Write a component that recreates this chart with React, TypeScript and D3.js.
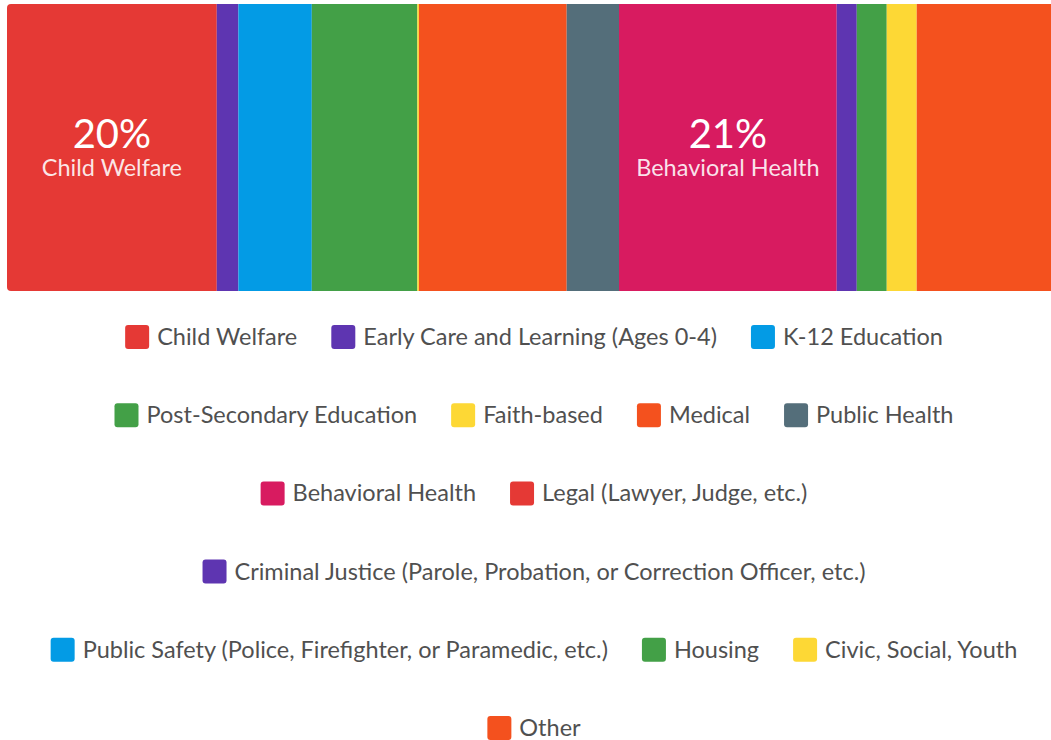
import React, { useEffect, useRef } from "react";
import * as d3 from "d3";

const categories = [
  "Child Welfare",
  "Early Care and Learning (Ages 0-4)",
  "K-12 Education",
  "Post-Secondary Education",
  "Faith-based",
  "Medical",
  "Public Health",
  "Behavioral Health",
  "Legal (Lawyer, Judge, etc.)",
  "Criminal Justice (Parole, Probation, or Correction Officer, etc.)",
  "Public Safety (Police, Firefighter, or Paramedic, etc.)",
  "Housing",
  "Civic, Social, Youth",
  "Other",
];
const values = [20.09, 2.07, 7.03, 10.11, 0.15, 14.15, 5.01, 20.85, 0, 1.92, 0, 2.87, 2.87, 12.86];
const colors = [
  "#E53935", "#5E35B1", "#039BE5", "#43A047", "#FDD835", "#F4511E", "#546E7A",
  "#D81B60", "#E53935", "#5E35B1", "#039BE5", "#43A047", "#FDD835", "#F4511E",
];

const W = 1051;
const H = 740;
const FONT = "Lato, 'Open Sans', sans-serif";

export default function App() {
  const ref = useRef<SVGSVGElement | null>(null);
  useEffect(() => {
    const svg = d3.select(ref.current);
    svg.selectAll("*").remove();
    const total = d3.sum(values);
    const x = d3.scaleLinear().domain([0, total]).range([7, 1051]);
    const y0 = 4, y1 = 291;
    const cum = d3.cumsum(values);
    const segs = values.map((v, i) => ({ v, i, start: cum[i] - v, end: cum[i] }));

    const defs = svg.append("defs");
    defs.append("clipPath").attr("id", "barclip")
      .append("rect").attr("x", 7).attr("y", y0).attr("width", 1060).attr("height", y1 - y0).attr("rx", 4);

    const g = svg.append("g").attr("clip-path", "url(#barclip)");
    g.selectAll("rect").data(segs.filter(s => s.v > 0)).join("rect")
      .attr("x", s => x(s.start))
      .attr("y", y0)
      .attr("width", s => x(s.end) - x(s.start))
      .attr("height", y1 - y0)
      .attr("fill", s => colors[s.i]);

    const labeled = segs.filter(s => (s.v / total) * 100 >= 18);
    const lg = svg.append("g").attr("font-family", FONT).attr("fill", "#fff").attr("text-anchor", "middle");
    labeled.forEach(s => {
      const cx = (x(s.start) + x(s.end)) / 2;
      lg.append("text").attr("x", cx).attr("y", 148).attr("font-size", 40)
        .text(`${Math.round((s.v / total) * 100)}%`);
      lg.append("text").attr("x", cx).attr("y", 176).attr("font-size", 23.5).attr("fill-opacity", 0.88)
        .text(categories[s.i]);
    });

    // Legend
    const legend = svg.append("g").attr("font-family", FONT).attr("font-size", 23.5).attr("fill", "#505050");
    const sw = 24, gapText = 8, gapItem = 34, maxW = 1035, cx = 534;
    const items = categories.map((c, i) => {
      const t = legend.append("text").text(c);
      const w = (t.node() as SVGTextElement).getComputedTextLength();
      return { c, i, w: sw + gapText + w, t };
    });
    const rows: typeof items[] = [];
    let cur: typeof items = [];
    let curW = 0;
    items.forEach(it => {
      const add = cur.length ? gapItem + it.w : it.w;
      if (cur.length && curW + add > maxW) {
        rows.push(cur);
        cur = [it];
        curW = it.w;
      } else {
        cur.push(it);
        curW += add;
      }
    });
    if (cur.length) rows.push(cur);
    rows.forEach((row, r) => {
      const rowW = d3.sum(row, d => d.w) + gapItem * (row.length - 1);
      let px = cx - rowW / 2;
      const cy = 337 + r * 78.2;
      row.forEach(it => {
        legend.append("rect").attr("x", px).attr("y", cy - sw / 2).attr("width", sw).attr("height", sw)
          .attr("rx", 3).attr("fill", colors[it.i]);
        it.t.attr("x", px + sw + gapText).attr("y", cy + 8);
        px += it.w + gapItem;
      });
    });
  }, []);
  return (
    <svg ref={ref} width={W} height={H} style={{ position: "absolute", left: 0, top: 0 }} />
  );
}
